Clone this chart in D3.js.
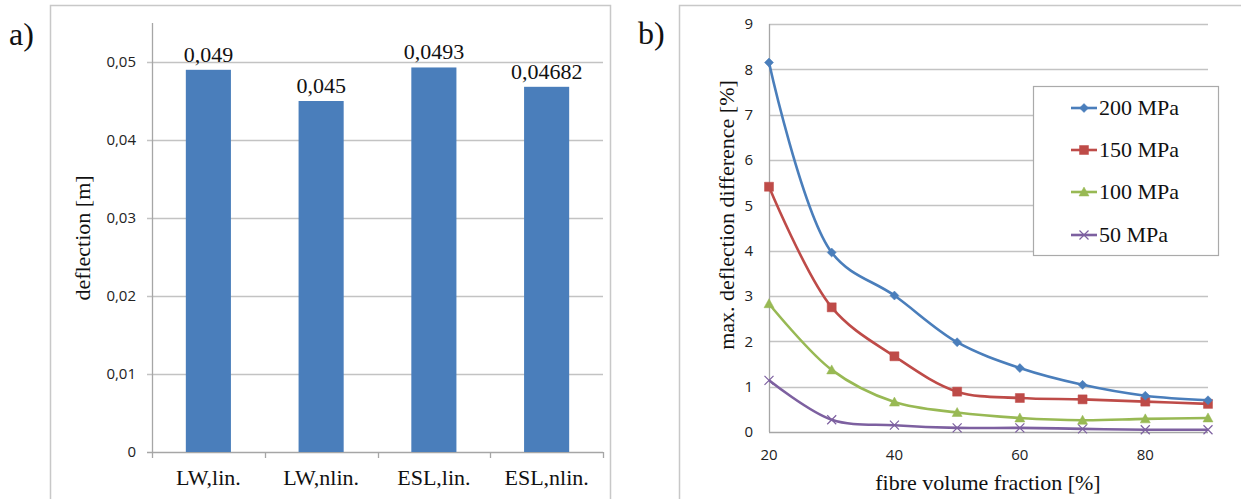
<!DOCTYPE html>
<html><head><meta charset="utf-8">
<script src="https://cdn.jsdelivr.net/npm/d3@7"></script>
<style>
html,body{margin:0;padding:0;background:#fff;}
svg{display:block;}
</style></head>
<body>
<svg id="chart" width="1241" height="499"></svg>
<script>
// ---- data: panel a ----
const barCategories = ["LW,lin.", "LW,nlin.", "ESL,lin.", "ESL,nlin."];
const barValues = [0.049, 0.045, 0.0493, 0.04682];
const barLabels = ["0,049", "0,045", "0,0493", "0,04682"];
const barTicks = [0, 0.01, 0.02, 0.03, 0.04, 0.05];
const barTickLabels = ["0", "0,01", "0,02", "0,03", "0,04", "0,05"];

// ---- data: panel b ----
const fibreFraction = [20, 30, 40, 50, 60, 70, 80, 90];
const s200 = [8.15, 3.96, 3.01, 1.98, 1.41, 1.04, 0.80, 0.70];
const s150 = [5.41, 2.75, 1.67, 0.89, 0.75, 0.72, 0.67, 0.62];
const s100 = [2.83, 1.37, 0.66, 0.43, 0.31, 0.26, 0.29, 0.31];
const s50  = [1.14, 0.27, 0.15, 0.09, 0.09, 0.07, 0.05, 0.05];
const seriesNames = ["200 MPa", "150 MPa", "100 MPa", "50 MPa"];
const lineXTicks = [20, 40, 60, 80];
const lineYTicks = [0, 1, 2, 3, 4, 5, 6, 7, 8, 9];

const svg = d3.select("#chart");
const serif = "'Liberation Serif','Times New Roman',serif";
const sans = "'Open Sans','Liberation Sans',sans-serif";
const gridColor = "#c3c3c3";
const axisColor = "#a6a6a6";
const frameColor = "#c8c8c8";

// ================= Panel a =================
(function(){
  const g = svg.append("g");
  // frame
  g.append("path").attr("d","M50.5,499 V5.5 H610.5 V499").attr("fill","none").attr("stroke",frameColor).attr("stroke-width",1.5);
  g.append("text").attr("x",9).attr("y",45).attr("font-family",serif).attr("font-size",32).attr("fill","#111").text("a)");

  const x = d3.scaleBand().domain(barCategories).range([152, 603]).paddingInner(0.6).paddingOuter(0.3);
  const y = d3.scaleLinear().domain([0, 0.055]).range([452, 23]);

  // gridlines
  g.append("g").selectAll("line").data(barTicks.filter(d=>d>0)).join("line")
    .attr("x1",147).attr("x2",603).attr("y1",d=>Math.round(y(d))+0.5).attr("y2",d=>Math.round(y(d))+0.5)
    .attr("stroke",gridColor).attr("stroke-width",1.3);
  // y axis line
  g.append("line").attr("x1",152.5).attr("x2",152.5).attr("y1",23).attr("y2",452).attr("stroke",axisColor).attr("stroke-width",1.3);
  // x axis line + ticks
  g.append("line").attr("x1",147).attr("x2",603).attr("y1",452.5).attr("y2",452.5).attr("stroke",axisColor).attr("stroke-width",1.3);
  const bounds = barCategories.map((c)=>x(c) - x.step()*x.paddingInner()/2);
  bounds.push(603);
  g.append("g").selectAll("line").data(bounds).join("line")
    .attr("x1",d=>Math.round(d)+0.5).attr("x2",d=>Math.round(d)+0.5).attr("y1",452).attr("y2",458)
    .attr("stroke",axisColor).attr("stroke-width",1.3);
  // y tick labels
  g.append("g").selectAll("text").data(barTicks).join("text")
    .attr("x",136).attr("y",d=>y(d)).attr("dy","0.35em").attr("text-anchor","end")
    .attr("font-family",sans).attr("font-size",15).attr("fill","#222")
    .text((d,i)=>barTickLabels[i]);
  // bars
  g.append("g").selectAll("rect").data(barValues).join("rect")
    .attr("x",(d,i)=>x(barCategories[i])).attr("width",x.bandwidth())
    .attr("y",d=>y(d)).attr("height",d=>y(0)-y(d)).attr("fill","#4a7ebb");
  // value labels
  g.append("g").selectAll("text").data(barValues).join("text")
    .attr("x",(d,i)=>x(barCategories[i])+x.bandwidth()/2).attr("y",d=>y(d)-8)
    .attr("text-anchor","middle").attr("font-family",serif).attr("font-size",22).attr("fill","#111")
    .text((d,i)=>barLabels[i]);
  // category labels
  g.append("g").selectAll("text").data(barCategories).join("text")
    .attr("x",d=>x(d)+x.bandwidth()/2).attr("y",485)
    .attr("text-anchor","middle").attr("font-family",serif).attr("font-size",22).attr("fill","#111")
    .text(d=>d);
  // y title
  g.append("text").attr("transform","translate(90,238) rotate(-90)").attr("text-anchor","middle")
    .attr("font-family",serif).attr("font-size",22).attr("fill","#111").text("deflection [m]");
})();

// ================= Panel b =================
(function(){
  const g = svg.append("g");
  g.append("path").attr("d","M679.5,499 V5.5 H1241").attr("fill","none").attr("stroke",frameColor).attr("stroke-width",1.5);
  g.append("text").attr("x",638).attr("y",44).attr("font-family",serif).attr("font-size",32).attr("fill","#111").text("b)");

  const x = d3.scaleLinear().domain([20, 90]).range([769, 1208]);
  const y = d3.scaleLinear().domain([0, 9]).range([432, 24]);

  g.append("g").selectAll("line").data(lineYTicks.filter(d=>d>0)).join("line")
    .attr("x1",769).attr("x2",1208).attr("y1",d=>Math.round(y(d))+0.5).attr("y2",d=>Math.round(y(d))+0.5)
    .attr("stroke",gridColor).attr("stroke-width",1.3);
  g.append("line").attr("x1",769.5).attr("x2",769.5).attr("y1",24).attr("y2",432).attr("stroke",axisColor).attr("stroke-width",1.3);
  g.append("line").attr("x1",769).attr("x2",1208).attr("y1",432.5).attr("y2",432.5).attr("stroke",axisColor).attr("stroke-width",1.3);

  g.append("g").selectAll("text").data(lineYTicks).join("text")
    .attr("x",753).attr("y",d=>y(d)).attr("dy","0.35em").attr("text-anchor","end")
    .attr("font-family",sans).attr("font-size",15).attr("fill","#222").text(d=>d);
  g.append("g").selectAll("text").data(lineXTicks).join("text")
    .attr("x",d=>x(d)).attr("y",455).attr("dy","0.35em").attr("text-anchor","middle")
    .attr("font-family",sans).attr("font-size",15).attr("fill","#222").text(d=>d);

  g.append("text").attr("x",988).attr("y",490).attr("text-anchor","middle")
    .attr("font-family",serif).attr("font-size",22).attr("fill","#111").text("fibre volume fraction [%]");
  g.append("text").attr("transform","translate(734,215) rotate(-90)").attr("text-anchor","middle")
    .attr("font-family",serif).attr("font-size",22).attr("fill","#111").text("max. deflection difference [%]");

  const series = [
    {name: seriesNames[0], values: s200, color: "#4a7ebb", marker: "diamond"},
    {name: seriesNames[1], values: s150, color: "#be4b48", marker: "square"},
    {name: seriesNames[2], values: s100, color: "#98b954", marker: "triangle"},
    {name: seriesNames[3], values: s50,  color: "#7d60a0", marker: "x"}
  ];
  function markerPath(type){
    if (type === "diamond") return "M0,-4.5 L4.5,0 L0,4.5 L-4.5,0 Z";
    if (type === "square") return "M-4.5,-4.5 H4.5 V4.5 H-4.5 Z";
    if (type === "triangle") return "M0,-5 L5,4 L-5,4 Z";
    return "M-4.5,-4.5 L4.5,4.5 M-4.5,4.5 L4.5,-4.5";
  }
  const line = d3.line().x((d,i)=>x(fibreFraction[i])).y(d=>y(d)).curve(d3.curveCatmullRom.alpha(0.5));

  // draw bottom series first so blue on top? Excel draws in order; 200 first
  series.slice().reverse().forEach(s=>{
    g.append("path").attr("d",line(s.values)).attr("fill","none").attr("stroke",s.color).attr("stroke-width",2.6)
      .attr("stroke-linejoin","round");
    g.append("g").selectAll("path").data(s.values).join("path")
      .attr("transform",(d,i)=>`translate(${x(fibreFraction[i])},${y(d)})`)
      .attr("d",markerPath(s.marker))
      .attr("fill",s.marker==="x"?"none":s.color).attr("stroke",s.color).attr("stroke-width",s.marker==="x"?1.2:0.5);
  });

  // legend
  const lg = g.append("g");
  lg.append("rect").attr("x",1033.5).attr("y",86.5).attr("width",185).attr("height",169)
    .attr("fill","#fff").attr("stroke","#aaaaaa").attr("stroke-width",1.2);
  const ly = [108, 150, 192, 235];
  series.forEach((s,i)=>{
    lg.append("line").attr("x1",1071).attr("x2",1097).attr("y1",ly[i]).attr("y2",ly[i]).attr("stroke",s.color).attr("stroke-width",2.6);
    lg.append("path").attr("transform",`translate(1084,${ly[i]})`).attr("d",markerPath(s.marker))
      .attr("fill",s.marker==="x"?"none":s.color).attr("stroke",s.color).attr("stroke-width",s.marker==="x"?1.2:0.5);
    lg.append("text").attr("x",1099).attr("y",ly[i]).attr("dy","0.33em")
      .attr("font-family",serif).attr("font-size",22).attr("fill","#111").text(s.name);
  });
})();
</script>
</body></html>
